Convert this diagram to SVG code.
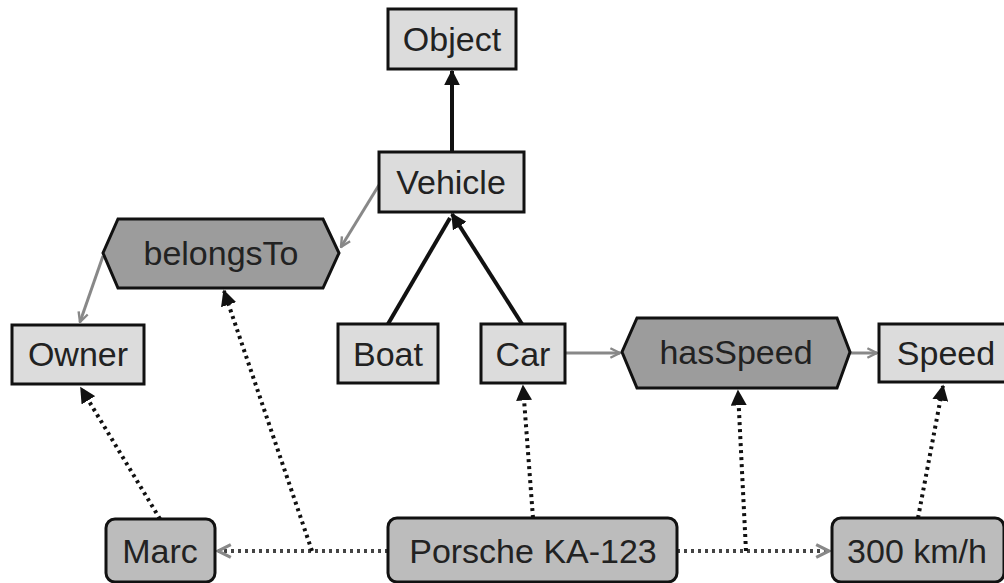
<svg xmlns="http://www.w3.org/2000/svg" width="1004" height="583" viewBox="0 0 1004 583">
  <defs>
    <marker id="solidHead" viewBox="0 0 10 10" refX="9" refY="5" markerWidth="4" markerHeight="4" orient="auto" markerUnits="strokeWidth">
      <path d="M0,0 L10,5 L0,10 Z" fill="#111"/>
    </marker>
    <marker id="dotHead" viewBox="0 0 10 10" refX="9" refY="5" markerWidth="4" markerHeight="4" orient="auto" markerUnits="strokeWidth">
      <path d="M0,0 L10,5 L0,10 Z" fill="#111"/>
    </marker>
    <marker id="grayHead" viewBox="0 0 10 10" refX="9" refY="5" markerWidth="4" markerHeight="4" orient="auto" markerUnits="strokeWidth">
      <path d="M1,1 L9,5 L1,9" fill="none" stroke="#888" stroke-width="2"/>
    </marker>
  </defs>
  <style>
    .cls { fill: #dcdcdc; stroke: #111; stroke-width: 3; }
    .prop { fill: #9c9c9c; stroke: #111; stroke-width: 3; }
    .inst { fill: #bcbcbc; stroke: #111; stroke-width: 3; }
    .lbl { font-family: "Liberation Sans", Arial, sans-serif; font-size: 34px; fill: #222; text-anchor: middle; }
    .sub { stroke: #111; stroke-width: 4; fill: none; marker-end: url(#solidHead); }
    .sub-plain { stroke: #111; stroke-width: 4; fill: none; }
    .rel { stroke: #888; stroke-width: 3; fill: none; marker-end: url(#grayHead); }
    .typ { stroke: #111; stroke-width: 4; fill: none; stroke-dasharray: 3 4; marker-end: url(#dotHead); }
    .typ-plain { stroke: #111; stroke-width: 4; fill: none; stroke-dasharray: 3 4; }
    .val { stroke: #444; stroke-width: 4; fill: none; stroke-dasharray: 3 4; marker-end: url(#grayHead); }
  </style>
  <rect width="1004" height="583" fill="#fff"/>

  <g id="connectors">
    <!-- subclass hierarchy -->
    <line class="sub" x1="452" y1="152" x2="452" y2="71"/>
    <line class="sub-plain" x1="388" y1="324" x2="450" y2="218"/>
    <line class="sub" x1="522" y1="324" x2="452" y2="214"/>
    <!-- property domain / range -->
    <line class="rel" x1="379" y1="185" x2="341" y2="247"/>
    <line class="rel" x1="103" y1="256" x2="80" y2="322"/>
    <line class="rel" x1="565" y1="353" x2="620" y2="353"/>
    <line class="rel" x1="850" y1="353" x2="877" y2="353"/>
    <!-- instance typing -->
    <line class="typ" x1="160" y1="519" x2="81" y2="388"/>
    <line class="typ" x1="533" y1="518" x2="523" y2="386"/>
    <line class="typ" x1="918" y1="518" x2="943" y2="386"/>
    <!-- property assertions -->
    <line class="val" x1="388" y1="551" x2="218" y2="551"/>
    <line class="typ" x1="312" y1="551" x2="224" y2="291"/>
    <line class="val" x1="677" y1="551" x2="829" y2="551"/>
    <line class="typ" x1="746" y1="551" x2="738" y2="391"/>
  </g>

  <g id="object">
    <rect class="cls" x="388" y="9" width="128" height="60"/>
    <text class="lbl" x="452" y="51">Object</text>
  </g>
  <g id="vehicle">
    <rect class="cls" x="379" y="152" width="145" height="60"/>
    <text class="lbl" x="451" y="194">Vehicle</text>
  </g>
  <g id="belongsTo">
    <polygon class="prop" points="118,219 323,219 339,253 323,288 118,288 103,253"/>
    <text class="lbl" x="221" y="265">belongsTo</text>
  </g>
  <g id="owner">
    <rect class="cls" x="12" y="325" width="132" height="59"/>
    <text class="lbl" x="78" y="366">Owner</text>
  </g>
  <g id="boat">
    <rect class="cls" x="338" y="324" width="100" height="59"/>
    <text class="lbl" x="388" y="366">Boat</text>
  </g>
  <g id="car">
    <rect class="cls" x="481" y="324" width="84" height="59"/>
    <text class="lbl" x="523" y="366">Car</text>
  </g>
  <g id="hasSpeed">
    <polygon class="prop" points="637,318 837,318 850,352 837,388 637,388 622,352"/>
    <text class="lbl" x="736" y="364">hasSpeed</text>
  </g>
  <g id="speed">
    <rect class="cls" x="879" y="324" width="140" height="58"/>
    <text class="lbl" x="946" y="365">Speed</text>
  </g>
  <g id="marc">
    <rect class="inst" x="106" y="519" width="109" height="63" rx="9"/>
    <text class="lbl" x="160" y="563">Marc</text>
  </g>
  <g id="porsche">
    <rect class="inst" x="388" y="518" width="289" height="64" rx="9"/>
    <text class="lbl" x="533" y="563">Porsche KA-123</text>
  </g>
  <g id="speedValue">
    <rect class="inst" x="832" y="518" width="172" height="64" rx="9"/>
    <text class="lbl" x="917" y="563">300 km/h</text>
  </g>
</svg>
